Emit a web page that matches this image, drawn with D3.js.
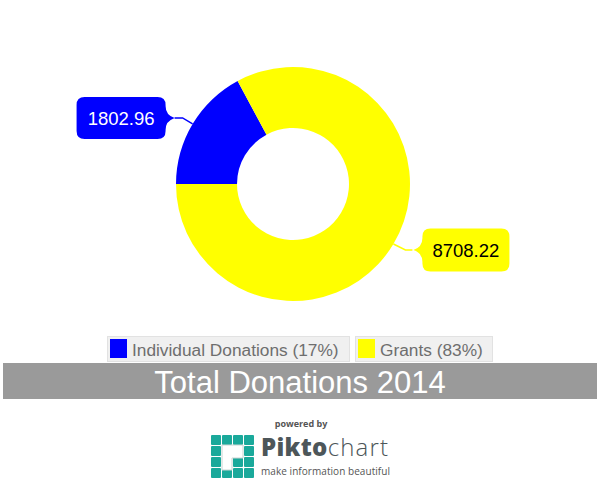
<!DOCTYPE html>
<html><head><meta charset="utf-8">
<script src="https://cdn.jsdelivr.net/npm/d3@7/dist/d3.min.js"></script>
<style>body{margin:0;background:#fff;}svg{display:block;}</style>
</head><body>
<svg id="c" width="600" height="488"></svg>
<script>
const categories = ["Individual Donations", "Grants"];
const values = [1802.96, 8708.22];
const colors = ["#0000ff", "#ffff00"];
const labelColors = ["#ffffff", "#000000"];
const title = "Total Donations 2014";

const svg = d3.select("#c");
const cx = 293, cy = 184, rOuter = 117, rInner = 56;

const total = d3.sum(values);
const pie = d3.pie().sort(null).startAngle(-Math.PI/2).endAngle(3*Math.PI/2);
const arcs = pie(values);
const arc = d3.arc().innerRadius(rInner).outerRadius(rOuter);

const g = svg.append("g").attr("transform", `translate(${cx},${cy})`);
g.selectAll("path.slice").data(arcs).enter().append("path")
  .attr("class","slice").attr("d", arc).attr("fill", (d,i)=>colors[i]);

function bubble(x0,y0,w,h,side,r){
  const x1=x0+w,y1=y0+h,yc=(y0+y1)/2,t=9,n=12;
  if(side==="right"){
    return `M${x0+r},${y0}H${x1-r}Q${x1},${y0} ${x1},${y0+r}V${yc-n}Q${x1},${yc-3} ${x1+t},${yc}Q${x1},${yc+3} ${x1},${yc+n}V${y1-r}Q${x1},${y1} ${x1-r},${y1}H${x0+r}Q${x0},${y1} ${x0},${y1-r}V${y0+r}Q${x0},${y0} ${x0+r},${y0}Z`;
  } else {
    return `M${x0+r},${y0}H${x1-r}Q${x1},${y0} ${x1},${y0+r}V${y1-r}Q${x1},${y1} ${x1-r},${y1}H${x0+r}Q${x0},${y1} ${x0},${y1-r}V${yc+n}Q${x0},${yc+3} ${x0-t},${yc}Q${x0},${yc-3} ${x0},${yc-n}V${y0+r}Q${x0},${y0} ${x0+r},${y0}Z`;
  }
}
const fmt = d3.format(".2f");
arcs.forEach((d,i)=>{
  const a = (d.startAngle+d.endAngle)/2;
  const px = cx + rOuter*Math.sin(a), py = cy - rOuter*Math.cos(a);
  const left = Math.sin(a) < 0;
  let pts, bx, by, bw, bh;
  if(left){
    const e = [px-10, py-6], tip=[px-18, py-6];
    pts=[[px,py],e,tip];
    bw=89; bh=42; bx=tip[0]-9-bw; by=tip[1]-bh/2;
  } else {
    const e = [px+12, py+6], tip=[px+19, py+6];
    pts=[[px,py],e,tip];
    bw=87; bh=43; bx=tip[0]+10; by=tip[1]-bh/2;
  }
  svg.append("path").attr("d", d3.line()(pts)).attr("fill","none")
    .attr("stroke", colors[i]).attr("stroke-width",1.5);
  svg.append("path").attr("d", bubble(bx,by,bw,bh,left?"right":"left",8)).attr("fill", colors[i]);
  svg.append("text").attr("x", bx+bw/2).attr("y", by+bh/2+7)
    .attr("text-anchor","middle").attr("font-family","Liberation Sans, Arial, sans-serif")
    .attr("font-size",18.5).attr("fill", labelColors[i]).text(fmt(values[i]));
});

const legend = [
  {x:107, w:242},
  {x:355, w:137}
];
categories.forEach((c,i)=>{
  const pct = Math.round(values[i]/total*100);
  const L = legend[i];
  svg.append("rect").attr("x",L.x+0.5).attr("y",336.5).attr("width",L.w).attr("height",25)
    .attr("fill","#f0f0f0").attr("stroke","#e2e2e2");
  svg.append("rect").attr("x",L.x+3).attr("y",339).attr("width",17).attr("height",19).attr("fill",colors[i]);
  svg.append("text").attr("x",L.x+25).attr("y",355.5)
    .attr("font-family","Liberation Sans, Arial, sans-serif").attr("font-size",17.3)
    .attr("fill","#6e6e6e").text(`${c} (${pct}%)`);
});

svg.append("rect").attr("x",3).attr("y",363).attr("width",594).attr("height",36).attr("fill","#9a9a9a");
svg.append("text").attr("x",300).attr("y",393).attr("text-anchor","middle")
  .attr("font-family","Liberation Sans, Arial, sans-serif").attr("font-size",31)
  .attr("fill","#ffffff").text(title);

svg.append("text").attr("x",301).attr("y",427).attr("text-anchor","middle")
  .attr("font-family","Open Sans, sans-serif").attr("font-weight",700).attr("font-size",9)
  .attr("fill","#555").text("powered by");
const icon = svg.append("g");
for(let r=0;r<4;r++) for(let c=0;c<4;c++){
  icon.append("rect").attr("x",211+c*11).attr("y",435+r*11).attr("width",10).attr("height",10)
    .attr("rx",1).attr("fill","#1aa99b");
}
icon.append("path").attr("d","M222,445H243V458H232V470H222Z").attr("fill","#fff")
  .attr("stroke","#c8d4d2").attr("stroke-width",1);
const t = svg.append("text").attr("x",261).attr("y",456)
  .attr("font-family","Open Sans, sans-serif").attr("font-size",24).attr("fill","#4d5659");
t.append("tspan").attr("font-weight",800).attr("letter-spacing",0.3).text("Pikto");
t.append("tspan").attr("font-weight",300).attr("letter-spacing",1.2).text("chart");
svg.append("text").attr("x",261).attr("y",474.5).attr("textLength",129)
  .attr("font-family","Open Sans, sans-serif").attr("font-size",10).attr("fill","#555")
  .text("make information beautiful");
</script>
</body></html>
